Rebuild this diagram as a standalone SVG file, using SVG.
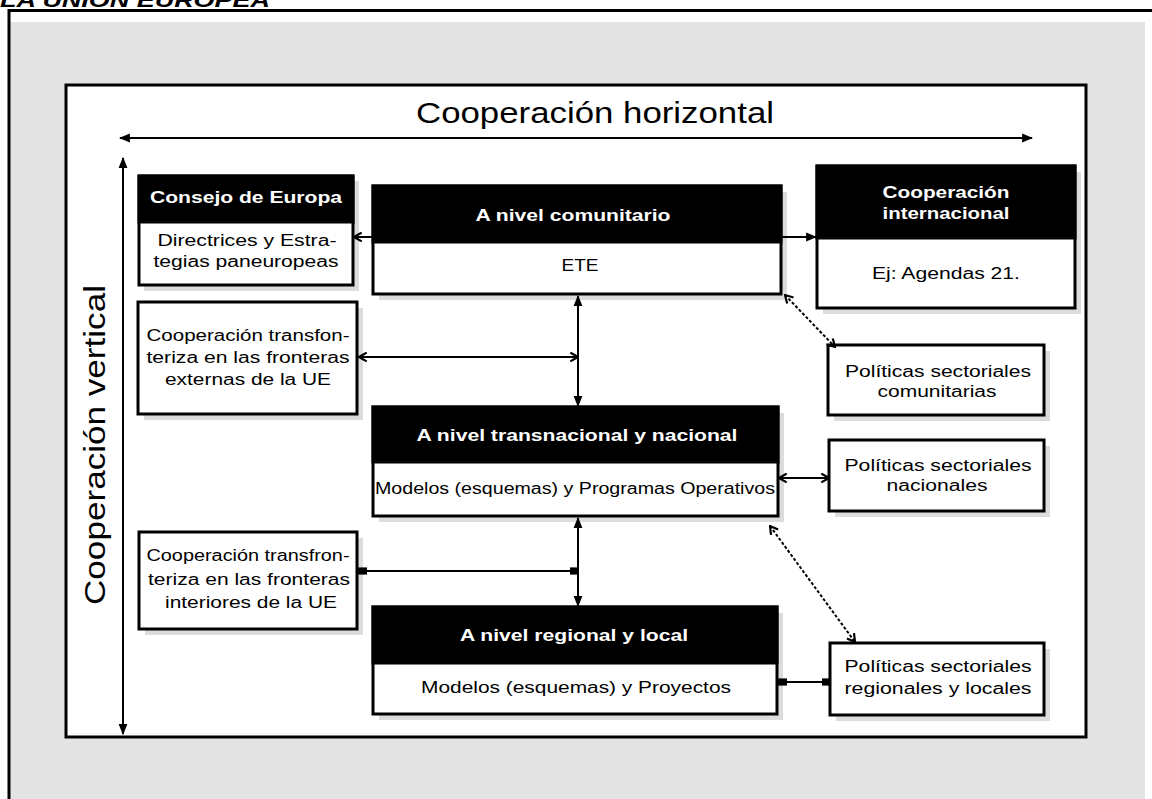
<svg xmlns="http://www.w3.org/2000/svg" width="1152" height="799" viewBox="0 0 1152 799">
<style>
.t{font-family:"Liberation Sans",Arial,sans-serif;font-size:16px;fill:#000;text-anchor:middle;dominant-baseline:central}
.h{fill:#fff;font-weight:bold}
.big{font-size:30px}
.box{fill:#fff;stroke:#000;stroke-width:3}
.hdr{fill:#000;stroke:#000;stroke-width:3}
.sh{fill:#dcdcdc}
.c{stroke:#000;stroke-width:2;fill:none}
.d{stroke:#000;stroke-width:2;fill:none;stroke-dasharray:3 2}
</style>
<defs>
<marker id="tri" viewBox="0 0 10 10" refX="9" refY="5" markerWidth="11" markerHeight="11" markerUnits="userSpaceOnUse" orient="auto-start-reverse"><path d="M0,1 L10,5 L0,9 Z" fill="#000"/></marker>
<marker id="opn" viewBox="0 0 10 10" refX="9" refY="5" markerWidth="11" markerHeight="11" markerUnits="userSpaceOnUse" orient="auto-start-reverse"><path d="M2,1 L9,5 L2,9" fill="none" stroke="#000" stroke-width="2"/></marker>
<marker id="sq" viewBox="0 0 10 10" refX="9" refY="5" markerWidth="9" markerHeight="9" markerUnits="userSpaceOnUse" orient="auto-start-reverse"><rect x="0" y="1" width="10" height="8" fill="#000"/></marker>
</defs>
<rect x="0" y="0" width="1152" height="799" fill="#fff"/>
<text x="0" y="7" font-family="Liberation Sans,Arial,sans-serif" font-size="20" font-weight="bold" font-style="italic" textLength="270" lengthAdjust="spacingAndGlyphs">LA UNION EUROPEA</text>
<rect x="10" y="22" width="1135" height="777" fill="#e4e4e4"/>
<line x1="8" y1="10.5" x2="1152" y2="10.5" stroke="#000" stroke-width="3"/>
<line x1="9" y1="9" x2="9" y2="799" stroke="#000" stroke-width="3"/>
<rect x="66" y="85" width="1020" height="652" fill="#fff" stroke="#000" stroke-width="3"/>
<g id="labels">
<text class="t big" x="595" y="112" textLength="358" lengthAdjust="spacingAndGlyphs">Cooperación horizontal</text>
<text class="t big" transform="translate(94,445) rotate(-90)" x="0" y="0" textLength="320" lengthAdjust="spacingAndGlyphs">Cooperación vertical</text>
</g>
<g id="consejo">
<rect class="sh" x="144" y="181" width="215" height="110"/>
<rect class="box" x="139" y="176" width="214" height="109"/>
<rect class="hdr" x="139" y="176" width="214" height="46"/>
<text class="t h" x="246" y="197" textLength="192" lengthAdjust="spacingAndGlyphs">Consejo de Europa</text>
<text class="t" x="247" y="240" textLength="179" lengthAdjust="spacingAndGlyphs">Directrices y Estra-</text>
<text class="t" x="246" y="261" textLength="185" lengthAdjust="spacingAndGlyphs">tegias paneuropeas</text>
</g>
<g id="comunitario">
<rect class="sh" x="379" y="192" width="408" height="108"/>
<rect class="box" x="373" y="186" width="408" height="108"/>
<rect class="hdr" x="373" y="186" width="408" height="56"/>
<text class="t h" x="573" y="215" textLength="195" lengthAdjust="spacingAndGlyphs">A nivel comunitario</text>
<text class="t" x="580" y="265" textLength="37" lengthAdjust="spacingAndGlyphs">ETE</text>
</g>
<g id="internacional">
<rect class="sh" x="823" y="172" width="258" height="142"/>
<rect class="box" x="817" y="166" width="258" height="142"/>
<rect class="hdr" x="817" y="166" width="258" height="72"/>
<text class="t h" x="946" y="192" textLength="127" lengthAdjust="spacingAndGlyphs">Cooperación</text>
<text class="t h" x="946" y="213" textLength="127" lengthAdjust="spacingAndGlyphs">internacional</text>
<text class="t" x="946" y="273" textLength="148" lengthAdjust="spacingAndGlyphs">Ej: Agendas 21.</text>
</g>
<g id="pol-comunitarias">
<rect class="sh" x="834" y="351" width="216" height="70"/>
<rect class="box" x="828" y="345" width="216" height="70"/>
<text class="t" x="938" y="371" textLength="186" lengthAdjust="spacingAndGlyphs">Políticas sectoriales</text>
<text class="t" x="937" y="391" textLength="119" lengthAdjust="spacingAndGlyphs">comunitarias</text>
</g>
<g id="transf-externas">
<rect class="sh" x="144" y="308" width="219" height="112"/>
<rect class="box" x="138" y="302" width="219" height="112"/>
<text class="t" x="248" y="335" textLength="203" lengthAdjust="spacingAndGlyphs">Cooperación transfon-</text>
<text class="t" x="248" y="357" textLength="203" lengthAdjust="spacingAndGlyphs">teriza en las fronteras</text>
<text class="t" x="248" y="379" textLength="166" lengthAdjust="spacingAndGlyphs">externas de la UE</text>
</g>
<g id="transnacional">
<rect class="sh" x="379" y="413" width="405" height="109"/>
<rect class="box" x="373" y="407" width="405" height="109"/>
<rect class="hdr" x="373" y="407" width="405" height="55"/>
<text class="t h" x="577" y="435" textLength="321" lengthAdjust="spacingAndGlyphs">A nivel transnacional y nacional</text>
<text class="t" x="575" y="488" textLength="400" lengthAdjust="spacingAndGlyphs">Modelos (esquemas) y Programas Operativos</text>
</g>
<g id="pol-nacionales">
<rect class="sh" x="835" y="446" width="215" height="71"/>
<rect class="box" x="829" y="440" width="215" height="71"/>
<text class="t" x="938" y="465" textLength="187" lengthAdjust="spacingAndGlyphs">Políticas sectoriales</text>
<text class="t" x="937" y="485" textLength="101" lengthAdjust="spacingAndGlyphs">nacionales</text>
</g>
<g id="transf-interiores">
<rect class="sh" x="145" y="538" width="218" height="97"/>
<rect class="box" x="139" y="532" width="218" height="97"/>
<text class="t" x="248" y="555" textLength="203" lengthAdjust="spacingAndGlyphs">Cooperación transfron-</text>
<text class="t" x="249" y="579" textLength="202" lengthAdjust="spacingAndGlyphs">teriza en las fronteras</text>
<text class="t" x="251" y="602" textLength="172" lengthAdjust="spacingAndGlyphs">interiores de la UE</text>
</g>
<g id="regional">
<rect class="sh" x="379" y="613" width="404" height="107"/>
<rect class="box" x="373" y="607" width="404" height="107"/>
<rect class="hdr" x="373" y="607" width="404" height="56"/>
<text class="t h" x="574" y="635" textLength="228" lengthAdjust="spacingAndGlyphs">A nivel regional y local</text>
<text class="t" x="576" y="687" textLength="310" lengthAdjust="spacingAndGlyphs">Modelos (esquemas) y Proyectos</text>
</g>
<g id="pol-regionales">
<rect class="sh" x="836" y="649" width="214" height="72"/>
<rect class="box" x="830" y="643" width="214" height="72"/>
<text class="t" x="938" y="666" textLength="187" lengthAdjust="spacingAndGlyphs">Políticas sectoriales</text>
<text class="t" x="938" y="688" textLength="187" lengthAdjust="spacingAndGlyphs">regionales y locales</text>
</g>
<g id="connectors">
<line class="c" x1="120" y1="138" x2="1032" y2="138" stroke-width="3" marker-start="url(#tri)" marker-end="url(#tri)"/>
<line class="c" x1="123" y1="158" x2="123" y2="734" marker-start="url(#tri)" marker-end="url(#tri)"/>
<line class="c" x1="373" y1="237" x2="354" y2="237" marker-end="url(#opn)"/>
<line class="c" x1="781" y1="237" x2="816" y2="237" marker-end="url(#tri)"/>
<line class="c" x1="578" y1="296" x2="578" y2="406" marker-start="url(#tri)" marker-end="url(#tri)"/>
<line class="c" x1="359" y1="357" x2="578" y2="357" marker-start="url(#opn)" marker-end="url(#opn)"/>
<line class="d" x1="785" y1="295" x2="835" y2="347" marker-start="url(#opn)" marker-end="url(#opn)"/>
<line class="c" x1="779" y1="478" x2="829" y2="478" marker-start="url(#opn)" marker-end="url(#opn)"/>
<line class="d" x1="770" y1="526" x2="855" y2="642" marker-start="url(#opn)" marker-end="url(#opn)"/>
<line class="c" x1="578" y1="518" x2="578" y2="606" marker-start="url(#tri)" marker-end="url(#tri)"/>
<line class="c" x1="359" y1="571" x2="578" y2="571" marker-start="url(#sq)" marker-end="url(#sq)"/>
<line class="c" x1="779" y1="682" x2="830" y2="682" stroke-width="3" marker-start="url(#sq)" marker-end="url(#sq)"/>
</g>
</svg>
